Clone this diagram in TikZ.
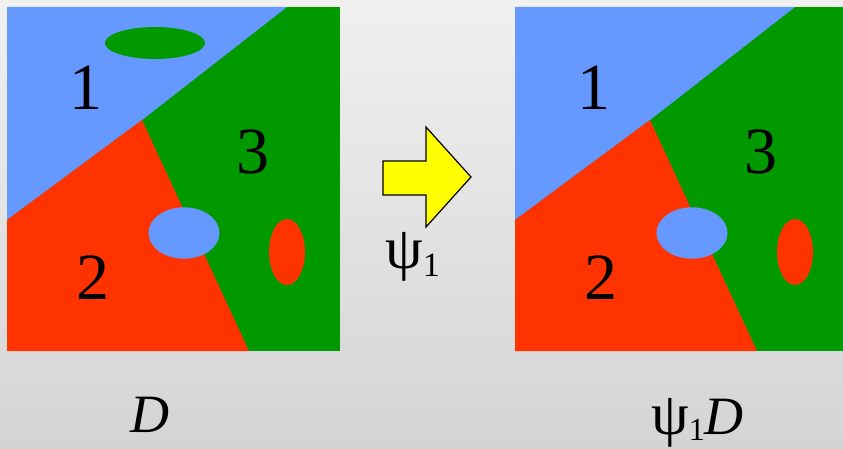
\documentclass[tikz,border=0pt]{standalone}
\usepackage{fontspec}
\setmainfont{Liberation Serif}
\definecolor{bgtop}{RGB}{240,240,240}
\definecolor{bgbot}{RGB}{212,212,212}
\definecolor{regblue}{RGB}{102,153,255}
\definecolor{regred}{RGB}{255,51,0}
\definecolor{reggreen}{RGB}{0,153,0}
\definecolor{arrowyellow}{RGB}{255,255,0}
\tikzset{
  region/.style={font=\fontsize{66}{66}\selectfont},
  caption/.style={font=\fontsize{54}{54}\selectfont, inner sep=0pt},
}
\newcommand{\bigpsi}{{\fontsize{60}{60}\selectfont ψ}}
\newcommand{\subone}[2]{\raisebox{#1}{\fontsize{#2}{#2}\selectfont 1}}
\begin{document}
\begin{tikzpicture}[x=1pt,y=-1pt]
	\clip (0,0) rectangle (843,449);
	\shade[top color=bgtop, bottom color=bgbot] (0,0) rectangle (843,449);

	% left picture D
	\fill[reggreen] (7,7) rectangle (340,351);
	\fill[regblue] (7,7) -- (287,7) -- (142,120) -- (7,220) -- cycle;
	\fill[regred] (7,220) -- (142,120) -- (249,351) -- (7,351) -- cycle;
	\fill[reggreen] (155,43) ellipse (50 and 16);
	\fill[regblue] (184,233) ellipse (35.5 and 25.7);
	\fill[regred] (287,252) ellipse (18 and 33);
	\node[region] (l1) at (86,88) {1};
	\node[region] (l2) at (93,278) {2};
	\node[region] (l3) at (253,152) {3};

	% right picture psi_1 D
	\begin{scope}[xshift=508pt]
		\fill[reggreen] (7,7) rectangle (340,351);
		\fill[regblue] (7,7) -- (287,7) -- (142,120) -- (7,220) -- cycle;
		\fill[regred] (7,220) -- (142,120) -- (249,351) -- (7,351) -- cycle;
		\fill[regblue] (184,233) ellipse (35.5 and 25.7);
		\fill[regred] (287,252) ellipse (18 and 33);
		\node[region] (r1) at (86,88) {1};
		\node[region] (r2) at (93,278) {2};
		\node[region] (r3) at (253,152) {3};
	\end{scope}

	% the map
	\draw[fill=arrowyellow, line width=1.2pt, line join=miter]
		(383,161) -- (426,161) -- (426,127) -- (471,177) -- (426,227)
		-- (426,195) -- (383,195) -- cycle;
	\node[caption, anchor=base west] (map) at (385,268) {\bigpsi\subone{-8pt}{34}};

	\node[caption, anchor=base] (dl) at (150,432) {\itshape D};
	\node[caption, anchor=base west] (dr) at (651,434)
		{\bigpsi\subone{-6pt}{32}\itshape D};
\end{tikzpicture}
\end{document}
